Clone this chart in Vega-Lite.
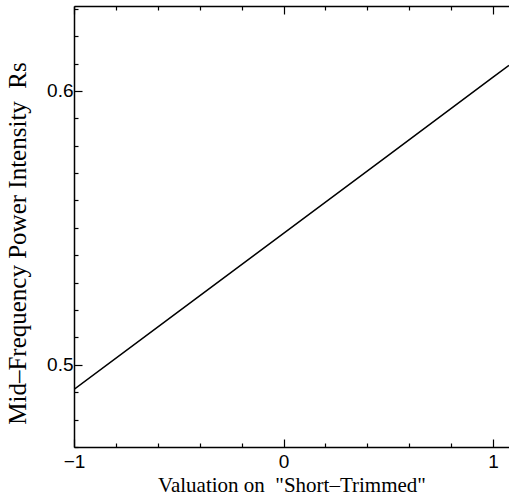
{
  "$schema": "https://vega.github.io/schema/vega-lite/v6.json",
  "width": 435,
  "height": 441,
  "autosize": {"type": "none"},
  "padding": {"left": 74, "top": 6, "right": 0, "bottom": 51},
  "background": "white",
  "config": {
    "view": {"stroke": null},
    "axis": {
      "grid": false,
      "domainColor": "black",
      "domainWidth": 1.5,
      "tickColor": "black",
      "tickWidth": 1.2,
      "labelColor": "black",
      "titleColor": "black",
      "labelFont": "Liberation Sans",
      "labelFontSize": 19,
      "titleFont": "Liberation Serif",
      "titleFontSize": 21,
      "titleFontWeight": "normal"
    }
  },
  "data": {
    "values": [
      {"v": -1, "r": 0.491},
      {"v": -0.5, "r": 0.5195},
      {"v": 0, "r": 0.548},
      {"v": 0.5, "r": 0.5765},
      {"v": 1, "r": 0.605},
      {"v": 1.076, "r": 0.6093}
    ]
  },
  "layer": [
    {
      "mark": {"type": "line", "color": "black", "strokeWidth": 1.5, "clip": true},
      "encoding": {
        "x": {
          "field": "v",
          "type": "quantitative",
          "scale": {"domain": [-1, 1.076], "nice": false, "zero": false},
          "axis": {
            "orient": "bottom",
            "title": "Valuation on\u00a0\u00a0\"Short–Trimmed\"",
            "titlePadding": 3,
            "values": [-1, -0.8, -0.6, -0.4, -0.2, 0, 0.2, 0.4, 0.6, 0.8, 1],
            "format": ".0f",
            "labelExpr": "abs(datum.value - round(datum.value)) < 1e-6 ? datum.label : ''",
            "tickSize": {"condition": {"test": "abs(datum.value - round(datum.value)) < 1e-6", "value": -8}, "value": -4},
            "labelPadding": 13,
            "labelFlush": false
          }
        },
        "y": {
          "field": "r",
          "type": "quantitative",
          "scale": {"domain": [0.47, 0.631], "nice": false, "zero": false},
          "axis": {
            "orient": "left",
            "title": "Mid–Frequency Power Intensity\u00a0\u00a0Rs",
            "titleFontSize": 25,
            "titleY": 237,
            "values": [0.47, 0.48, 0.49, 0.5, 0.51, 0.52, 0.53, 0.54, 0.55, 0.56, 0.57, 0.58, 0.59, 0.6, 0.61, 0.62, 0.63],
            "format": ".1f",
            "labelExpr": "abs(datum.value * 10 - round(datum.value * 10)) < 1e-6 ? datum.label : ''",
            "tickSize": {"condition": {"test": "abs(datum.value * 10 - round(datum.value * 10)) < 1e-6", "value": -8}, "value": -4},
            "labelPadding": 9,
            "labelFlush": false,
            "titlePadding": 16
          }
        }
      }
    },
    {
      "mark": {"type": "line", "strokeOpacity": 0},
      "encoding": {
        "x": {
          "field": "v",
          "type": "quantitative",
          "axis": {
            "orient": "top",
            "title": null,
            "labels": false,
            "values": [-1, -0.8, -0.6, -0.4, -0.2, 0, 0.2, 0.4, 0.6, 0.8, 1],
            "tickSize": {"condition": {"test": "abs(datum.value - round(datum.value)) < 1e-6", "value": -8}, "value": -4}
          }
        },
        "y": {"field": "r", "type": "quantitative", "axis": null}
      }
    }
  ],
  "resolve": {"axis": {"x": "independent", "y": "independent"}}
}
